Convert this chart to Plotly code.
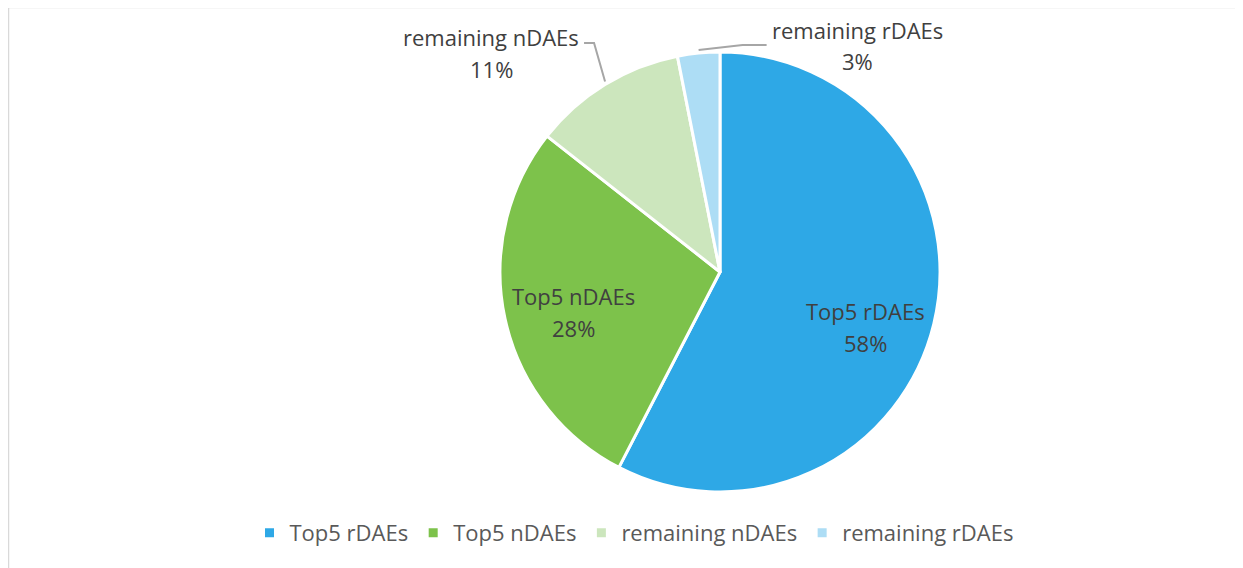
import math
import plotly.graph_objects as go

labels = ["Top5 rDAEs", "Top5 nDAEs", "remaining nDAEs", "remaining rDAEs"]
values = [57.6, 28.0, 11.3, 3.1]
colors = ["#2EA8E6", "#7DC24B", "#CCE6BD", "#ADDDF5"]
inside = [True, True, False, False]

W, H = 1243, 568
OFF = 8                      # page body margin of the browser
CX, CY, R = 720, 272, 220    # pie centre/radius in screen pixels
FONT = "Open Sans"
TXT = "#404040"
LEAD = "#A6A6A6"


def px(x, y):
    return (x - OFF) / W, 1 - (y - OFF) / H


x0, y0 = px(CX - R, CY + R)
x1, y1 = px(CX + R, CY - R)
fig = go.Figure(go.Pie(
    labels=labels, values=values, sort=False, direction="clockwise", rotation=0,
    marker=dict(colors=colors, line=dict(color="white", width=3)),
    textinfo="none", hoverinfo="label+percent",
    domain=dict(x=[x0, x1], y=[y0, y1]),
))

annotations = []
shapes = []


def text_at(x, y, txt, anchor="center", size=22):
    ax, ay = px(x, y)
    annotations.append(dict(x=ax, y=ay, xref="paper", yref="paper", text=txt,
                            xanchor=anchor, yanchor="middle", showarrow=False,
                            font=dict(family=FONT, size=size, color=TXT)))


total = sum(values)
cum = 0
for lab, v, ins in zip(labels, values, inside):
    mid = (cum + v / 2) / total * 2 * math.pi
    cum += v
    pct = f"{round(v / total * 100)}%"
    s, c = math.sin(mid), math.cos(mid)
    if ins:
        d = 0.68 * R
        lx, ly = CX + d * s, CY - d * c + 14 + 6 * s
        text_at(lx, ly - 16, lab)
        text_at(lx, ly + 16, pct)
    else:
        ex, ey = CX + R * s, CY - R * c
        if s < -0.3:
            kx, ky = ex - 11, 43
            tx = kx - 10
            half = 87
            text_at(tx - 6 - half, 37, lab)
            text_at(tx - 6 - half, 69, pct)
        else:
            kx, ky = ex + 44, 45
            tx = kx + 24
            half = 87
            text_at(tx + 4 + half, 30, lab)
            text_at(tx + 4 + half, 61, pct)
        pts = [px(ex, ey - 3), px(kx, ky), px(tx, ky)]
        path = "M " + " L ".join(f"{p[0]},{p[1]}" for p in pts)
        shapes.append(dict(type="path", path=path, xref="paper", yref="paper",
                           line=dict(color=LEAD, width=2)))

bx0, by1 = px(8.5, 7.5)
shapes.append(dict(type="rect", xref="paper", yref="paper", x0=bx0, x1=1.2, y0=-0.1, y1=by1,
                   line=dict(color="#D9D9D9", width=1.5), fillcolor="rgba(0,0,0,0)", layer="below"))

lgx, lgy = px(634, 533)
fig.update_layout(
    width=W, height=H, margin=dict(l=0, r=0, t=0, b=0),
    paper_bgcolor="white", plot_bgcolor="white",
    showlegend=True,
    legend=dict(orientation="h", x=lgx, xanchor="center", y=lgy, yanchor="middle",
                font=dict(family=FONT, size=22, color="#595959"), itemclick=False),
    annotations=annotations, shapes=shapes,
)

fig.write_html("out.html")
